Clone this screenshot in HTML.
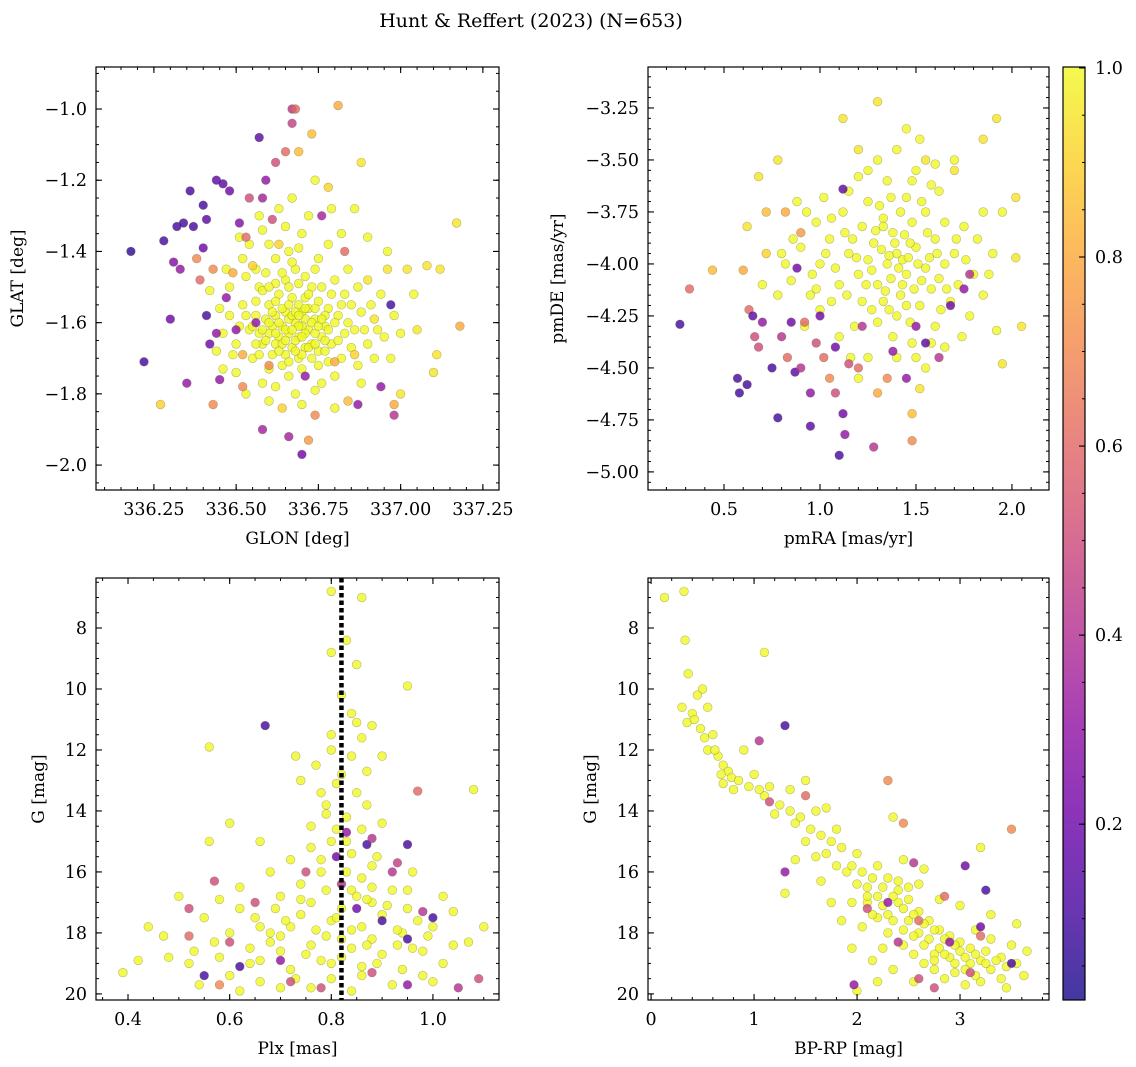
<!DOCTYPE html>
<html><head><meta charset="utf-8"><style>
body{margin:0;background:#fff;}
svg{display:block;font-family:"DejaVu Serif","Liberation Serif",serif;}
</style></head><body>
<svg id="fig" width="1136" height="1067" viewBox="0 0 1136 1067">
<text x="531" y="27" text-anchor="middle" font-size="19">Hunt &amp; Reffert (2023) (N=653)</text>
</svg>
<script>
// ---------- DATA ----------
const glonGlat = [
[336.60,-1.55,1],[336.62,-1.58,1],[336.64,-1.61,1],[336.66,-1.63,1],[336.68,-1.60,1],[336.70,-1.57,1],[336.72,-1.62,1],[336.74,-1.59,1],[336.76,-1.64,1],[336.78,-1.56,1],
[336.58,-1.66,1],[336.61,-1.69,1],[336.63,-1.52,1],[336.65,-1.48,1],[336.67,-1.67,1],[336.69,-1.70,1],[336.71,-1.53,1],[336.73,-1.50,1],[336.75,-1.68,1],[336.77,-1.61,1],
[336.79,-1.66,1],[336.81,-1.58,1],[336.83,-1.63,1],[336.85,-1.55,1],[336.56,-1.58,1],[336.54,-1.62,1],[336.52,-1.55,1],[336.57,-1.50,1],[336.59,-1.46,1],[336.62,-1.42,1],
[336.64,-1.72,1],[336.66,-1.75,1],[336.70,-1.73,1],[336.74,-1.45,1],[336.76,-1.50,1],[336.80,-1.48,1],[336.82,-1.70,1],[336.86,-1.62,1],[336.88,-1.57,1],[336.90,-1.66,1],
[336.55,-1.70,1],[336.50,-1.66,1],[336.48,-1.58,1],[336.53,-1.47,1],[336.60,-1.38,1],[336.58,-1.34,1],[336.66,-1.40,1],[336.70,-1.35,1],[336.72,-1.30,1],[336.78,-1.38,1],
[336.84,-1.45,1],[336.62,-1.78,1],[336.68,-1.80,1],[336.76,-1.77,1],[336.80,-1.84,1],[336.92,-1.70,1],[336.94,-1.52,1],[336.65,-1.57,1],[336.67,-1.53,1],[336.69,-1.64,1],
[336.71,-1.59,1],[336.73,-1.66,1],[336.63,-1.64,1],[336.61,-1.61,1],[336.59,-1.59,1],[336.57,-1.63,1],[336.75,-1.54,1],[336.77,-1.58,1],[336.79,-1.52,1],[336.81,-1.65,1],
[336.64,-1.56,1],[336.66,-1.59,1],[336.68,-1.65,1],[336.70,-1.61,1],[336.72,-1.56,1],[336.60,-1.63,1],[336.58,-1.51,1],[336.56,-1.45,1],[336.52,-1.42,1],[336.48,-1.50,1],
[336.46,-1.63,1],[336.44,-1.68,1],[336.46,-1.73,1],[336.50,-1.74,1],[336.54,-1.38,1],[336.63,-1.28,1],[336.67,-1.25,1],[336.74,-1.20,1],[336.86,-1.28,1],[336.90,-1.36,1],
[336.96,-1.40,1],[337.00,-1.63,1],[337.04,-1.52,1],[336.88,-1.77,1],[336.95,-1.64,1],[336.62,-1.66,1],[336.69,-1.55,1],[336.74,-1.63,1],[336.65,-1.69,1],[336.71,-1.67,1],
[336.58,-1.62,1],[336.53,-1.58,1],[336.84,-1.60,1],[336.87,-1.50,1],[336.78,-1.71,1],[336.60,-1.73,1],[336.56,-1.54,1],[336.62,-1.49,1],[336.68,-1.45,1],[336.75,-1.42,1],
[336.61,-1.57,1],[336.63,-1.60,1],[336.65,-1.62,1],[336.67,-1.58,1],[336.69,-1.61,1],[336.71,-1.63,1],[336.73,-1.60,1],[336.75,-1.61,1],[336.77,-1.65,1],[336.66,-1.55,1],
[336.68,-1.57,1],[336.70,-1.64,1],[336.72,-1.67,1],[336.64,-1.66,1],[336.62,-1.63,1],[336.60,-1.60,1],[336.74,-1.56,1],[336.76,-1.59,1],[336.78,-1.62,1],[336.80,-1.60,1],
[336.67,-1.62,1],[336.69,-1.58,1],[336.71,-1.56,1],[336.65,-1.65,1],[336.63,-1.68,1],[336.73,-1.70,1],[336.75,-1.72,1],[336.59,-1.65,1],[336.57,-1.69,1],[336.82,-1.55,1],
[336.69,-1.49,1],[336.71,-1.47,1],[336.67,-1.43,1],[336.64,-1.46,1],[336.60,-1.50,1],[336.56,-1.66,1],[336.66,-1.71,1],[336.70,-1.69,1],[336.77,-1.68,1],[336.80,-1.75,1],
[336.55,-1.61,1],[336.51,-1.61,1],[336.49,-1.69,1],[336.45,-1.56,1],[336.42,-1.51,1],[336.47,-1.45,1],[336.51,-1.36,1],[336.57,-1.30,1],[336.65,-1.33,1],[336.69,-1.39,1],
[336.83,-1.52,1],[336.85,-1.67,1],[336.87,-1.72,1],[336.89,-1.62,1],[336.91,-1.55,1],[336.93,-1.62,1],[336.97,-1.70,1],[336.98,-1.58,1],[336.82,-1.35,1],[336.79,-1.28,1],
[336.60,-1.82,1],[336.70,-1.83,1],[336.74,-1.79,1],[336.53,-1.80,1],[336.58,-1.77,1],[336.66,-1.50,1],[336.72,-1.52,1],[336.74,-1.66,1],[336.68,-1.68,1],[336.62,-1.54,1],
[336.18,-1.40,0.05],[336.22,-1.71,0.1],[336.27,-1.83,0.9],[336.28,-1.37,0.1],[336.30,-1.59,0.2],[336.31,-1.43,0.25],[336.32,-1.33,0.1],[336.33,-1.45,0.3],[336.34,-1.32,0.1],[336.35,-1.77,0.3],
[336.36,-1.23,0.1],[336.37,-1.33,0.1],[336.38,-1.42,0.7],[336.39,-1.48,0.6],[336.40,-1.27,0.1],[336.40,-1.39,0.2],[336.41,-1.31,0.15],[336.41,-1.58,0.1],[336.42,-1.66,0.2],[336.43,-1.45,0.7],
[336.43,-1.83,0.7],[336.44,-1.20,0.15],[336.44,-1.63,0.3],[336.45,-1.76,0.3],[336.46,-1.21,0.15],[336.47,-1.53,0.3],[336.48,-1.23,0.2],[336.49,-1.46,0.8],[336.50,-1.62,0.3],[336.51,-1.32,0.25],
[336.52,-1.78,0.7],[336.52,-1.69,0.8],[336.53,-1.36,0.6],[336.54,-1.25,0.5],[336.55,-1.44,0.9],[336.56,-1.60,0.3],[336.57,-1.08,0.15],[336.58,-1.25,0.35],[336.58,-1.90,0.35],[336.59,-1.20,0.3],
[336.60,-1.72,0.7],[336.61,-1.31,0.5],[336.62,-1.15,0.5],[336.63,-1.38,0.9],[336.64,-1.84,0.9],[336.65,-1.12,0.6],[336.66,-1.92,0.35],[336.67,-1.00,0.4],[336.68,-1.00,0.6],[336.67,-1.04,0.45],
[336.69,-1.12,0.85],[336.70,-1.97,0.2],[336.71,-1.75,0.3],[336.72,-1.93,0.75],[336.73,-1.07,0.85],[336.74,-1.86,0.7],[336.76,-1.30,0.35],[336.78,-1.22,0.9],[336.80,-1.71,0.8],[336.81,-0.99,0.8],
[336.83,-1.40,0.6],[336.84,-1.82,0.85],[336.86,-1.69,0.9],[336.87,-1.83,0.3],[336.88,-1.15,0.95],[336.90,-1.48,0.95],[336.92,-1.59,0.95],[336.94,-1.78,0.3],[336.96,-1.45,0.95],[336.97,-1.55,0.1],
[336.98,-1.86,0.4],[336.98,-1.83,0.8],[337.00,-1.80,0.95],[337.02,-1.45,0.95],[337.05,-1.62,0.95],[337.08,-1.44,0.95],[337.10,-1.74,0.95],[337.12,-1.45,0.95],[337.11,-1.69,0.95],[337.17,-1.32,0.95],[337.18,-1.61,0.8]
];
const pmraPmde = [
[1.35,-4.00,1],[1.40,-3.95,1],[1.45,-4.05,1],[1.30,-4.10,1],[1.25,-3.98,1],[1.50,-3.92,1],[1.55,-4.02,1],[1.38,-3.85,1],[1.42,-4.15,1],[1.28,-3.90,1],
[1.20,-4.05,1],[1.15,-3.95,1],[1.60,-3.88,1],[1.65,-4.00,1],[1.48,-3.80,1],[1.33,-3.78,1],[1.22,-4.18,1],[1.52,-4.20,1],[1.58,-4.12,1],[1.70,-3.95,1],
[1.10,-4.10,1],[1.05,-3.88,1],[1.00,-4.00,1],[0.95,-4.15,1],[0.90,-3.92,1],[1.12,-3.75,1],[1.25,-3.70,1],[1.45,-3.68,1],[1.55,-3.75,1],[1.75,-3.82,1],
[1.80,-4.05,1],[1.68,-4.18,1],[1.40,-4.25,1],[1.30,-4.28,1],[1.18,-4.30,1],[1.00,-4.22,1],[0.85,-4.08,1],[0.80,-3.95,1],[1.62,-3.65,1],[1.35,-3.60,1],
[1.20,-3.58,1],[1.50,-3.55,1],[1.85,-3.75,1],[1.90,-3.95,1],[1.78,-4.25,1],[1.60,-4.30,1],[1.48,-4.38,1],[1.25,-4.45,1],[1.10,-4.35,1],[0.92,-4.30,1],
[1.37,-4.07,1],[1.43,-3.98,1],[1.32,-3.93,1],[1.27,-4.03,1],[1.47,-3.90,1],[1.53,-4.08,1],[1.57,-3.97,1],[1.62,-4.07,1],[1.17,-3.88,1],[1.08,-4.02,1],
[0.98,-3.80,1],[1.65,-3.80,1],[1.72,-4.10,1],[1.85,-4.15,1],[1.92,-4.32,1],[1.30,-3.50,1],[1.40,-3.45,1],[1.52,-3.40,1],[1.15,-3.65,1],[1.02,-3.68,1],
[0.88,-3.70,1],[0.78,-4.15,1],[0.70,-4.10,1],[1.95,-3.75,1],[1.70,-3.50,1],[1.40,-4.45,1],[1.55,-4.50,1],[1.20,-4.55,1],[1.33,-4.18,1],[1.45,-4.20,1],
[1.36,-3.96,1],[1.41,-4.02,1],[1.46,-3.97,1],[1.51,-4.00,1],[1.39,-3.90,1],[1.44,-3.86,1],[1.49,-4.12,1],[1.34,-4.13,1],[1.29,-3.84,1],[1.56,-3.85,1],
[1.61,-3.95,1],[1.66,-4.12,1],[1.24,-4.10,1],[1.19,-3.97,1],[1.14,-4.15,1],[1.53,-3.70,1],[1.58,-3.62,1],[1.42,-3.75,1],[1.31,-3.72,1],[1.47,-4.28,1],
[1.36,-4.22,1],[1.27,-4.22,1],[1.63,-4.22,1],[1.71,-3.88,1],[1.76,-3.98,1],[1.82,-3.88,1],[1.88,-4.05,1],[1.74,-4.35,1],[1.58,-4.38,1],[1.06,-4.18,1],
[0.96,-4.05,1],[0.86,-3.88,1],[0.93,-3.75,1],[1.06,-3.78,1],[1.22,-3.82,1],[1.37,-3.68,1],[1.48,-3.60,1],[1.60,-3.52,1],[1.25,-3.55,1],[1.45,-3.35,1],
[1.65,-4.40,1],[1.50,-4.45,1],[1.38,-4.35,1],[1.16,-4.45,1],[0.98,-4.12,1],[0.82,-4.00,1],[1.03,-3.95,1],[1.13,-3.85,1],[1.33,-3.82,1],[1.43,-4.10,1],
[0.72,-3.95,0.9],[0.62,-3.82,0.95],[0.78,-3.50,0.95],[0.68,-3.58,0.95],[0.72,-3.75,0.85],[0.82,-3.75,0.8],[0.90,-3.85,0.75],[1.55,-3.50,0.95],[1.70,-3.55,0.95],[1.85,-3.40,0.95],
[1.20,-3.45,0.95],[1.30,-3.22,0.95],[1.12,-3.30,0.95],[1.92,-3.30,0.95],[2.02,-3.68,0.95],[2.05,-4.30,0.95],[1.95,-4.48,0.95],[2.02,-3.97,0.95],
[0.27,-4.29,0.1],[0.32,-4.12,0.6],[0.44,-4.03,0.85],[0.57,-4.55,0.1],[0.58,-4.62,0.1],[0.62,-4.58,0.1],[0.60,-4.03,0.8],[0.63,-4.22,0.6],[0.65,-4.25,0.15],[0.66,-4.35,0.5],
[0.68,-4.40,0.5],[0.70,-4.28,0.3],[0.75,-4.50,0.1],[0.78,-4.74,0.1],[0.80,-4.35,0.4],[0.83,-4.45,0.6],[0.85,-4.28,0.2],[0.87,-4.52,0.15],[0.88,-4.02,0.2],[0.90,-4.50,0.4],
[0.92,-4.28,0.6],[0.95,-4.62,0.3],[0.95,-4.78,0.15],[0.98,-4.38,0.5],[1.00,-4.25,0.2],[1.02,-4.45,0.6],[1.05,-4.55,0.7],[1.08,-4.62,0.5],[1.08,-4.40,0.2],[1.10,-4.92,0.1],
[1.12,-4.72,0.2],[1.13,-4.82,0.3],[1.15,-4.48,0.5],[1.12,-3.64,0.15],[1.20,-4.50,0.6],[1.22,-4.30,0.4],[1.28,-4.88,0.4],[1.30,-4.62,0.8],[1.35,-4.55,0.7],[1.38,-4.42,0.3],
[1.45,-4.55,0.3],[1.48,-4.85,0.7],[1.48,-4.72,0.85],[1.52,-4.60,0.95],[1.55,-4.38,0.15],[1.50,-4.30,0.3],[1.62,-4.45,0.4],[1.75,-4.12,0.3],[1.78,-4.05,0.4],[1.68,-4.20,0.2]
];
const plxG = [
[0.80,6.8,1],[0.86,7.0,1],[0.80,8.8,1],[0.83,8.4,1],[0.85,9.2,1],[0.82,10.2,1],[0.95,9.9,1],[0.56,11.9,1],[0.73,12.2,1],[0.77,12.5,1],
[0.88,11.2,1],[0.90,12.2,1],[1.08,13.3,1],[0.74,13.0,1],[0.60,14.4,1],[0.56,15.0,1],[0.66,15.0,1],[0.50,16.8,1],[0.39,19.3,1],[0.42,18.9,1],
[0.44,17.8,1],[0.47,18.1,1],[0.53,18.6,1],[1.10,17.8,1],[1.07,18.3,1],[0.84,10.8,1],[0.86,11.6,1],[0.80,12.0,1],[0.82,12.8,1],[0.85,13.4,1],
[0.79,13.8,1],[0.83,14.2,1],[0.87,13.8,1],[0.76,14.5,1],[0.80,15.0,1],[0.84,15.4,1],[0.90,14.4,1],[0.72,15.6,1],[0.78,16.0,1],[0.86,16.2,1],
[0.92,16.6,1],[0.70,16.8,1],[0.76,17.0,1],[0.82,17.2,1],[0.88,17.0,1],[0.95,17.2,1],[0.65,17.5,1],[0.72,17.8,1],[0.80,17.6,1],[0.86,17.8,1],
[0.94,18.0,1],[1.00,17.8,1],[0.60,18.0,1],[0.68,18.3,1],[0.76,18.4,1],[0.84,18.5,1],[0.90,18.7,1],[0.98,18.6,1],[0.58,18.8,1],[0.64,19.0,1],
[0.72,19.2,1],[0.80,19.0,1],[0.86,19.4,1],[0.94,19.2,1],[1.02,19.0,1],[0.66,19.6,1],[0.76,19.8,1],[0.84,19.9,1],[0.92,19.7,1],[0.55,17.5,1],
[0.62,16.5,1],[0.68,16.0,1],[0.74,16.4,1],[0.88,15.8,1],[0.96,16.0,1],[1.02,16.8,1],[0.78,18.9,1],[0.82,18.2,1],[0.70,18.6,1],[0.74,17.4,1],
[0.84,16.6,1],[0.90,17.4,1],[0.66,18.9,1],[0.60,19.4,1],[0.52,19.0,1],[0.48,18.8,1],[1.04,18.4,1],[0.98,19.4,1],[0.81,14.6,1],[0.78,13.4,1],
[0.62,17.2,1],[0.58,16.9,1],[0.96,18.5,1],[0.88,18.2,1],[0.76,15.2,1],[0.87,16.9,1],[0.79,16.6,1],[0.69,17.2,1],[0.93,17.9,1],[0.73,19.5,1],
[0.83,16.0,1],[0.85,16.8,1],[0.81,17.5,1],[0.84,17.9,1],[0.87,18.4,1],[0.79,18.1,1],[0.77,17.9,1],[0.82,18.8,1],[0.86,19.1,1],[0.80,19.5,1],
[0.88,16.5,1],[0.91,17.1,1],[0.93,18.4,1],[0.75,18.7,1],[0.71,17.6,1],[0.68,18.0,1],[0.64,18.5,1],[0.89,19.0,1],[0.97,17.6,1],[0.99,18.1,1],
[0.84,12.2,1],[0.81,13.1,1],[0.86,14.6,1],[0.83,15.0,1],[0.78,15.6,1],[0.89,15.5,1],[0.85,11.1,1],[0.80,11.5,1],[0.87,12.7,1],[0.79,14.1,1],
[0.74,16.9,1],[0.70,18.1,1],[0.66,17.8,1],[0.57,18.3,1],[0.54,19.7,1],[0.62,19.9,1],[0.70,19.8,1],[1.00,19.6,1],[1.04,17.3,1],[0.95,16.6,1],
[0.67,11.2,0.1],[0.97,13.35,0.6],[0.57,16.3,0.5],[0.52,17.2,0.5],[0.52,18.1,0.6],[0.55,19.4,0.1],[0.58,19.7,0.7],[1.09,19.5,0.5],[1.05,19.8,0.4],[0.95,19.7,0.3],
[0.83,14.7,0.3],[0.81,15.5,0.2],[0.87,15.1,0.1],[0.95,15.1,0.1],[0.88,14.9,0.4],[0.93,15.7,0.45],[0.82,16.4,0.4],[0.85,17.2,0.2],[0.90,17.6,0.1],[0.95,18.2,0.1],
[0.98,17.3,0.4],[1.00,17.5,0.1],[0.70,18.9,0.3],[0.72,19.6,0.5],[0.62,19.1,0.1],[0.60,18.3,0.5],[0.78,19.8,0.5],[0.88,19.3,0.5],[0.65,17.0,0.5],[0.75,16.0,0.5],[0.92,16.0,0.4]
];
const bprpG = [
[0.13,7.0,1],[0.32,6.8,1],[0.33,8.4,1],[0.36,9.5,1],[1.10,8.8,1],[0.30,10.6,1],[0.35,11.1,1],[0.40,10.8,1],[0.45,10.2,1],[0.50,10.0,1],
[0.55,10.6,1],[0.48,11.3,1],[0.60,11.5,1],[0.55,12.0,1],[0.65,12.2,1],[0.70,12.5,1],[0.75,12.7,1],[0.70,13.1,1],[0.80,13.3,1],[0.90,12.0,1],
[1.00,12.8,1],[1.10,13.5,1],[1.20,14.1,1],[1.35,13.3,1],[1.40,14.4,1],[1.50,13.0,1],[1.60,14.0,1],[1.70,13.9,1],[1.30,16.7,1],[1.60,15.5,1],
[1.80,14.6,1],[2.00,15.4,1],[2.10,16.5,1],[2.20,15.8,1],[2.35,14.2,1],[3.20,15.2,1],[3.00,17.1,1],[3.30,17.4,1],[3.55,17.7,1],[3.65,18.6,1],
[3.62,19.4,1],[2.20,19.6,1],[2.00,19.9,1],[1.85,15.2,1],[1.90,16.0,1],[2.00,16.4,1],[2.10,17.0,1],[2.20,16.8,1],[2.30,17.4,1],[2.40,17.0,1],
[2.50,17.6,1],[2.60,18.0,1],[2.70,18.2,1],[2.80,18.5,1],[2.90,18.8,1],[3.00,18.6,1],[3.10,19.0,1],[3.20,18.9,1],[3.30,19.2,1],[3.40,18.8,1],
[2.30,16.2,1],[2.40,16.6,1],[2.50,16.9,1],[2.60,17.3,1],[2.70,17.6,1],[2.80,17.9,1],[2.90,18.1,1],[3.00,18.3,1],[3.10,18.5,1],[2.20,17.5,1],
[2.30,18.0,1],[2.45,18.4,1],[2.55,18.7,1],[2.65,19.0,1],[2.75,19.2,1],[2.85,19.5,1],[2.95,19.3,1],[3.05,19.7,1],[3.20,19.6,1],[3.40,19.5,1],
[2.05,17.8,1],[1.95,18.5,1],[2.15,18.9,1],[2.35,19.2,1],[2.55,19.6,1],[1.75,17.0,1],[1.85,17.6,1],[1.65,16.3,1],[2.60,16.4,1],[2.80,16.9,1],
[3.30,18.2,1],[3.50,18.4,1],[3.45,19.8,1],[1.50,15.0,1],[1.40,15.6,1],[2.45,15.6,1],[2.65,15.9,1],[2.25,18.5,1],[2.75,18.7,1],[3.15,17.9,1],
[0.42,11.0,1],[0.52,11.6,1],[0.62,12.0,1],[0.68,12.8,1],[0.78,12.9,1],[0.85,13.0,1],[0.95,13.2,1],[1.05,13.3,1],[1.15,13.2,1],[1.25,13.8,1],
[1.35,14.0,1],[1.45,14.2,1],[1.55,14.6,1],[1.65,14.8,1],[1.75,15.0,1],[1.70,15.4,1],[1.80,15.8,1],[1.95,15.8,1],[2.05,16.0,1],[2.15,16.2,1],
[2.25,16.5,1],[2.35,16.8,1],[2.45,17.2,1],[2.55,17.4,1],[2.65,17.7,1],[2.75,17.9,1],[2.85,18.2,1],[2.95,18.4,1],[3.05,18.8,1],[3.15,18.7,1],
[3.25,18.6,1],[3.35,18.9,1],[3.45,19.1,1],[3.55,19.0,1],[2.15,17.4,1],[2.25,17.1,1],[2.35,17.6,1],[2.45,17.9,1],[2.55,18.1,1],[2.65,18.4,1],
[2.75,18.9,1],[2.85,18.7,1],[2.95,19.0,1],[3.05,19.2,1],[3.15,19.4,1],[3.25,19.0,1],[2.40,16.3,1],[2.50,16.5,1],[2.10,16.8,1],[1.95,17.0,1],
[1.05,11.7,0.4],[1.15,13.7,0.5],[1.30,11.2,0.1],[1.50,13.5,0.6],[1.30,16.0,0.3],[2.30,13.0,0.7],[2.45,14.4,0.7],[2.55,15.7,0.4],[3.50,14.6,0.7],[3.25,16.6,0.1],
[3.05,15.8,0.2],[2.85,16.8,0.6],[3.50,19.0,0.1],[2.75,19.8,0.5],[1.97,19.7,0.3],[2.60,19.5,0.5],[3.10,19.3,0.5],[3.20,18.1,0.6],[2.90,18.3,0.3],[3.20,17.8,0.2],
[2.40,18.3,0.4],[2.10,17.2,0.5],[2.60,17.6,0.6],[2.30,17.0,0.3]
];
const plxLine = [0.82];
const cbarTicks = [0.2,0.4,0.6,0.8,1.0];

// ---------- helpers ----------
const NS = 'http://www.w3.org/2000/svg';
const svg = document.getElementById('fig');
const stops = ['#0d0887','#41049d','#6a00a8','#8f0da4','#b12a90','#cc4778','#e16462','#f2844b','#fca636','#fcce25','#f0f921'];
function hex(h){return [1,3,5].map(i=>parseInt(h.substr(i,2),16));}
function plasma(v){
  v=Math.max(0,Math.min(1,v))*10;const i=Math.min(9,Math.floor(v));const t=v-i;
  const a=hex(stops[i]),b=hex(stops[i+1]);
  return 'rgb('+a.map((c,k)=>Math.round(c+(b[k]-c)*t)).join(',')+')';
}
function mk(tag,attrs,parent){const e=document.createElementNS(NS,tag);for(const k in attrs)e.setAttribute(k,attrs[k]);(parent||svg).appendChild(e);return e;}
function ticksRange(a,b,step){const out=[];const s=Math.ceil(Math.min(a,b)/step-1e-6);const e=Math.floor(Math.max(a,b)/step+1e-6);for(let i=s;i<=e;i++)out.push(+(i*step).toFixed(6));return out;}

function panel(cfg){
  const g=mk('g',{});
  
  
  const {L,R,T,B,x0,x1,y0,y1}=cfg;
  const sx=v=>L+(v-x0)/(x1-x0)*(R-L);
  const sy=v=>T+(v-y0)/(y1-y0)*(B-T);
  const clip=mk('clipPath',{id:'c'+cfg.name},g);
  mk('rect',{x:L,y:T,width:R-L,height:B-T},clip);
  const pts=mk('g',{'clip-path':'url(#c'+cfg.name+')'},g);
  
  
  cfg.data.forEach(d=>{
    const c=mk('circle',{cx:sx(d[0]).toFixed(1),cy:sy(d[1]).toFixed(1),r:4.4,fill:plasma(d[2]),'fill-opacity':0.8,stroke:'#6b6b3a','stroke-opacity':0.45,'stroke-width':0.6},pts);
    
    
  });
  if(cfg.vline){cfg.vline.forEach(v=>{
    const l=mk('line',{x1:sx(v),x2:sx(v),y1:T,y2:B,stroke:'#000','stroke-width':4.5,'stroke-dasharray':'4.5 3'},pts);
    
    
  });}
  mk('rect',{x:L,y:T,width:R-L,height:B-T,fill:'none',stroke:'#000','stroke-width':1.2},g);
  ticksRange(x0,x1,cfg.xmin).forEach(v=>{const x=sx(v);
    mk('line',{x1:x,x2:x,y1:B,y2:B-3,stroke:'#000','stroke-width':1},g);
    mk('line',{x1:x,x2:x,y1:T,y2:T+3,stroke:'#000','stroke-width':1},g);});
  ticksRange(x0,x1,cfg.xmaj).forEach(v=>{const x=sx(v);
    mk('line',{x1:x,x2:x,y1:B,y2:B-6,stroke:'#000','stroke-width':1.1},g);
    mk('line',{x1:x,x2:x,y1:T,y2:T+6,stroke:'#000','stroke-width':1.1},g);
    const t=mk('text',{x:x,y:B+25,'text-anchor':'middle','font-size':17.5},g);t.textContent=v.toFixed(cfg.xdec);
    
    });
  ticksRange(y0,y1,cfg.ymin).forEach(v=>{const y=sy(v);
    mk('line',{x1:L,x2:L+3,y1:y,y2:y,stroke:'#000','stroke-width':1},g);
    mk('line',{x1:R,x2:R-3,y1:y,y2:y,stroke:'#000','stroke-width':1},g);});
  ticksRange(y0,y1,cfg.ymaj).forEach(v=>{const y=sy(v);
    mk('line',{x1:L,x2:L+6,y1:y,y2:y,stroke:'#000','stroke-width':1.1},g);
    mk('line',{x1:R,x2:R-6,y1:y,y2:y,stroke:'#000','stroke-width':1.1},g);
    const t=mk('text',{x:L-9,y:y+6,'text-anchor':'end','font-size':17.5},g);
    t.textContent=(v<0?'\u2212':'')+Math.abs(v).toFixed(cfg.ydec);
    
    });
  const xt=mk('text',{x:(L+R)/2,y:B+54,'text-anchor':'middle','font-size':17},g);xt.textContent=cfg.xlabel;
  
  
  const yt=mk('text',{x:cfg.ylx,y:(T+B)/2,'text-anchor':'middle','font-size':17,transform:'rotate(-90 '+cfg.ylx+' '+(T+B)/2+')'},g);yt.textContent=cfg.ylabel;
  
  
}

panel({name:'glon-glat-panel',data:glonGlat,L:96,R:499,T:67,B:490,x0:336.074,x1:337.299,y0:-0.882,y1:-2.070,xmaj:0.25,xmin:0.05,ymaj:0.2,ymin:0.05,xdec:2,ydec:1,xlabel:'GLON [deg]',ylabel:'GLAT [deg]',ylx:23});
panel({name:'pm-panel',data:pmraPmde,L:648,R:1049,T:67,B:490,x0:0.104,x1:2.193,y0:-3.053,y1:-5.087,xmaj:0.5,xmin:0.1,ymaj:0.25,ymin:0.05,xdec:1,ydec:2,xlabel:'pmRA [mas/yr]',ylabel:'pmDE [mas/yr]',ylx:563});
panel({name:'plx-g-panel',data:plxG,vline:plxLine,L:96,R:499,T:578,B:1000,x0:0.337,x1:1.130,y0:6.36,y1:20.2,xmaj:0.2,xmin:0.05,ymaj:2,ymin:0.5,xdec:1,ydec:0,xlabel:'Plx [mas]',ylabel:'G [mag]',ylx:44});
panel({name:'cmd-panel',data:bprpG,L:648,R:1049,T:578,B:1000,x0:-0.03,x1:3.864,y0:6.36,y1:20.2,xmaj:1,xmin:0.2,ymaj:2,ymin:0.5,xdec:0,ydec:0,xlabel:'BP-RP [mag]',ylabel:'G [mag]',ylx:596});

// colorbar
(function(){
  const L=1063,R=1085,T=67,B=1000,v0=1.001,v1=0.014;
  const sy=v=>T+(v-v0)/(v1-v0)*(B-T);
  const g=mk('g',{});
  
  
  const defs=mk('defs',{},g);
  const lg=mk('linearGradient',{id:'cbg',x1:0,y1:1,x2:0,y2:0},defs);
  for(let i=0;i<=10;i++){const v=v1+(v0-v1)*i/10;mk('stop',{offset:i/10,'stop-color':plasma(v)},lg);}
  mk('rect',{x:L,y:T,width:R-L,height:B-T,fill:'url(#cbg)','fill-opacity':0.8},g);
  mk('rect',{x:L,y:T,width:R-L,height:B-T,fill:'none',stroke:'#000','stroke-width':1.2},g);
  ticksRange(v1,v0,0.05).forEach(v=>{const y=sy(v);mk('line',{x1:R,x2:R-3,y1:y,y2:y,stroke:'#000','stroke-width':1},g);});
  cbarTicks.forEach(v=>{const y=sy(v);
    mk('line',{x1:R,x2:R-6,y1:y,y2:y,stroke:'#000','stroke-width':1.1},g);
    const t=mk('text',{x:R+10,y:y+6,'font-size':17.5},g);t.textContent=v.toFixed(1);
    
    });
})();
</script>
</body></html>
